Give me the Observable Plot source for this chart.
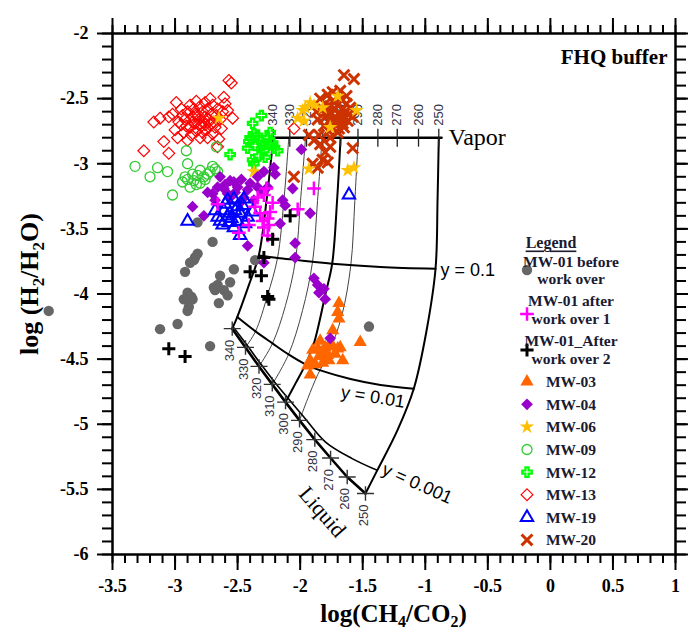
<!DOCTYPE html>
<html><head><meta charset="utf-8">
<script src="https://cdn.jsdelivr.net/npm/d3@7"></script>
<script src="https://cdn.jsdelivr.net/npm/@observablehq/plot@0.6"></script>
<style>
body{margin:0;background:#fff;}
#chart{position:relative;width:688px;height:630px;}
</style></head><body><div id="chart"></div>
<script>
// ---------------- data ----------------
const majorX = d3.range(-7, 3).map(d => d / 2);
const minorX = d3.range(-35, 11).map(d => d / 10);
const majorY = d3.range(-12, -3).map(d => d / 2);
const minorY = d3.range(-60, -19).map(d => d / 10);

const mw01Before = [[-2.82,-3.45],[-2.70,-3.60],[-2.82,-3.69],[-2.85,-3.74],[-2.88,-3.76],[-2.92,-3.83],[-2.53,-3.81],[-2.64,-3.86],[-2.56,-3.91],[-2.69,-3.95],[-2.68,-3.97],[-2.61,-3.97],[-2.58,-4.01],[-2.90,-3.99],[-2.93,-4.04],[-2.86,-4.04],[-2.89,-4.10],[-2.90,-4.13],[-2.65,-4.07],[-2.98,-4.23],[-3.12,-4.27],[-2.72,-4.40],[-2.36,-3.74],[-1.45,-4.25],[-4.01,-4.13],[-2.84,-3.72],[-2.87,-4.02],[-2.66,-3.93]];
const mw01After1 = [[-2.27,-3.19],[-2.29,-3.24],[-2.24,-3.37],[-2.32,-3.38],[-2.36,-3.33],[-2.26,-3.42],[-2.29,-3.49],[-2.25,-3.47],[-2.41,-3.47],[-2.49,-3.53],[-2.26,-3.55],[-2.66,-3.31],[-2.34,-3.26],[-1.89,-3.19],[-2.02,-3.35],[-2.30,-3.44],[-2.22,-3.30]];
const mw01After2 = [[-2.08,-3.40],[-2.22,-3.58],[-2.29,-3.72],[-2.40,-3.83],[-2.31,-3.86],[-2.26,-4.02],[-2.25,-4.04],[-3.05,-4.42],[-2.92,-4.48]];
const mw03 = [[-1.69,-4.07],[-1.70,-4.14],[-1.69,-4.19],[-1.74,-4.28],[-1.52,-4.37],[-1.84,-4.36],[-1.68,-4.41],[-1.90,-4.43],[-1.80,-4.43],[-1.72,-4.46],[-1.66,-4.51],[-1.92,-4.51],[-1.85,-4.48],[-1.77,-4.51],[-1.94,-4.55],[-1.88,-4.54],[-1.92,-4.62],[-1.80,-4.41],[-1.74,-4.40],[-1.83,-4.45],[-1.76,-4.38],[-1.70,-4.42],[-1.86,-4.42],[-1.78,-4.47],[-1.82,-4.53]];
const mw04 = [[-1.99,-2.89],[-2.21,-3.03],[-2.29,-3.06],[-2.64,-3.10],[-2.56,-3.13],[-2.74,-3.22],[-2.86,-3.33],[-2.77,-3.40],[-2.06,-3.19],[-2.14,-3.28],[-2.12,-3.32],[-1.92,-3.38],[-2.16,-3.46],[-2.42,-3.63],[-2.04,-3.61],[-2.42,-3.20],[-2.50,-3.18],[-2.61,-3.19],[-2.45,-3.26],[-2.37,-3.28],[-2.56,-3.26],[-2.66,-3.18],[-2.58,-3.23],[-2.70,-3.23],[-2.34,-3.18],[-2.34,-3.10],[-2.26,-3.18],[-2.04,-3.72],[-2.29,-3.76],[-1.89,-3.88],[-1.86,-3.93],[-1.81,-3.96],[-1.85,-3.99],[-1.80,-4.04],[-1.76,-4.34],[-2.53,-3.14],[-2.47,-3.12],[-2.40,-3.15],[-2.60,-3.16],[-2.52,-3.22],[-2.48,-3.30],[-2.30,-3.22],[-2.20,-3.08],[-2.68,-3.28]];
const mw06 = [[-1.70,-2.48],[-1.92,-2.53],[-1.96,-2.57],[-1.98,-2.59],[-2.02,-2.65],[-1.97,-2.67],[-1.89,-2.55],[-1.82,-2.57],[-1.76,-2.72],[-1.55,-2.59],[-1.93,-3.04],[-1.62,-3.05],[-1.57,-3.03],[-2.65,-2.65],[-2.37,-3.06]];
const mw09 = [[-3.32,-3.02],[-3.20,-3.10],[-3.14,-3.03],[-3.06,-3.06],[-3.02,-3.24],[-2.91,-2.90],[-2.90,-3.00],[-2.67,-2.87],[-2.90,-3.12],[-2.88,-3.18],[-2.82,-3.09],[-2.77,-3.10],[-2.72,-3.06],[-2.68,-3.04],[-2.85,-3.13],[-2.80,-3.15],[-2.74,-3.08],[-2.92,-3.10],[-2.86,-3.08],[-2.80,-3.05],[-2.70,-3.02],[-2.76,-3.12],[-2.83,-3.16],[-2.94,-3.14],[-2.66,-3.06]];
const mw12 = [[-2.31,-2.63],[-2.38,-2.69],[-2.37,-2.77],[-2.56,-2.93],[-2.41,-2.83],[-2.36,-2.86],[-2.32,-2.82],[-2.26,-2.80],[-2.25,-2.85],[-2.21,-2.88],[-2.29,-2.90],[-2.33,-2.94],[-2.24,-2.76],[-2.38,-2.97],[-2.37,-3.00],[-2.18,-2.90],[-2.28,-2.95],[-2.42,-2.88],[-2.34,-2.78],[-2.22,-2.84],[-2.30,-2.86],[-2.40,-2.80]];
const mw13 = [[-3.25,-2.90],[-3.17,-2.68],[-3.12,-2.65],[-3.05,-2.64],[-3.09,-2.83],[-3.05,-2.92],[-2.99,-2.53],[-2.98,-2.80],[-2.94,-2.63],[-2.66,-2.87],[-2.65,-2.81],[-2.61,-2.49],[-2.57,-2.36],[-2.55,-2.38],[-2.60,-2.54],[-2.54,-2.65],[-2.58,-2.59],[-2.05,-2.73],[-2.95,-2.70],[-2.92,-2.66],[-2.90,-2.60],[-2.88,-2.72],[-2.86,-2.64],[-2.85,-2.58],[-2.84,-2.69],[-2.83,-2.75],[-2.82,-2.62],[-2.81,-2.66],[-2.80,-2.56],[-2.79,-2.71],[-2.78,-2.60],[-2.77,-2.68],[-2.76,-2.64],[-2.75,-2.74],[-2.74,-2.58],[-2.73,-2.66],[-2.72,-2.70],[-2.71,-2.62],[-2.70,-2.55],[-2.69,-2.68],[-2.68,-2.72],[-2.67,-2.63],[-2.66,-2.58],[-2.87,-2.78],[-2.93,-2.76],[-2.97,-2.68],[-3.00,-2.74],[-2.90,-2.82],[-2.80,-2.80],[-2.74,-2.80],[-2.70,-2.77],[-2.64,-2.66],[-2.63,-2.73],[-2.88,-2.55],[-2.83,-2.52],[-2.76,-2.53],[-2.72,-2.50],[-2.95,-2.58],[-2.78,-2.76],[-2.84,-2.62],[-2.81,-2.70],[-2.86,-2.68],[-2.76,-2.70],[-2.91,-2.71],[-3.02,-2.62],[-2.62,-2.60]];
const mw19 = [[-2.90,-3.44],[-2.66,-3.41],[-2.58,-3.28],[-2.53,-3.27],[-2.45,-3.27],[-2.50,-3.33],[-2.61,-3.36],[-2.56,-3.38],[-2.48,-3.38],[-2.64,-3.44],[-2.57,-3.45],[-2.50,-3.44],[-2.42,-3.41],[-2.53,-3.49],[-2.48,-3.55],[-2.38,-3.37],[-2.68,-3.36],[-2.60,-3.31],[-2.55,-3.42],[-2.46,-3.32],[-2.62,-3.47],[-2.44,-3.46],[-1.61,-3.24],[-2.52,-3.36],[-2.58,-3.40]];
const mw20 = [[-1.65,-2.32],[-1.57,-2.35],[-1.58,-2.88],[-1.93,-2.78],[-2.05,-3.10],[-1.90,-3.00],[-1.86,-3.03],[-1.82,-2.97],[-1.78,-2.99],[-1.84,-2.85],[-1.89,-2.82],[-1.85,-2.78],[-1.76,-2.80],[-1.76,-2.87],[-1.80,-2.91],[-1.84,-2.50],[-1.82,-2.58],[-1.80,-2.54],[-1.79,-2.63],[-1.78,-2.47],[-1.77,-2.68],[-1.76,-2.56],[-1.75,-2.61],[-1.74,-2.52],[-1.73,-2.65],[-1.72,-2.58],[-1.71,-2.70],[-1.70,-2.55],[-1.69,-2.62],[-1.68,-2.50],[-1.67,-2.66],[-1.66,-2.58],[-1.65,-2.72],[-1.64,-2.60],[-1.63,-2.54],[-1.62,-2.67],[-1.61,-2.62],[-1.60,-2.57],[-1.58,-2.64],[-1.77,-2.75],[-1.81,-2.71],[-1.86,-2.66],[-1.70,-2.76],[-1.74,-2.45],[-1.68,-2.44],[-1.63,-2.48],[-1.87,-2.60],[-1.66,-2.69],[-1.72,-2.68],[-1.78,-2.60],[-1.69,-2.73]];

// grid (FHQ buffer)
const vaporLevel = -2.80;
const vaporTemps = [340,330,320,310,300,290,280,270,260,250];
const vaporTickX = [-2.215,-2.083,-1.949,-1.819,-1.677,-1.538,-1.379,-1.224,-1.054,-0.892];
const vaporLine = [[-2.215,-2.80],[-0.870,-2.80]];
const liquidTemps = [340,330,320,310,300,290,280,270,260,250];
const liquidX = [-2.543,-2.437,-2.329,-2.223,-2.117,-2.005,-1.883,-1.757,-1.624,-1.478];
const liquidY = [-4.266,-4.410,-4.556,-4.694,-4.830,-4.970,-5.118,-5.259,-5.405,-5.532];
const yLine01 = [[-2.331,-3.704],[-2.181,-3.723],[-2.037,-3.738],[-1.901,-3.752],[-1.744,-3.767],[-1.358,-3.792],[-0.918,-3.806]];
const yLine001 = [[-2.503,-4.177],[-2.357,-4.287],[-2.221,-4.379],[-2.093,-4.464],[-1.957,-4.540],[-1.813,-4.594],[-1.598,-4.652],[-1.358,-4.698],[-1.092,-4.727]];
const yLine0001 = [[-2.529,-4.260],[-2.421,-4.398],[-2.313,-4.540],[-2.205,-4.675],[-2.093,-4.805],[-1.977,-4.936],[-1.797,-5.137],[-1.584,-5.264],[-1.384,-5.354]];
const iso340 = [[-2.215,-2.800],[-2.265,-3.250],[-2.331,-3.704],[-2.411,-3.934],[-2.503,-4.177],[-2.543,-4.266]];
const iso330 = [[-2.091,-2.800],[-2.130,-3.282],[-2.181,-3.723],[-2.261,-4.011],[-2.357,-4.287],[-2.437,-4.410]];
const iso320 = [[-1.957,-2.800],[-1.997,-3.282],[-2.037,-3.738],[-2.117,-4.087],[-2.221,-4.379],[-2.329,-4.556]];
const iso310 = [[-1.824,-2.800],[-1.861,-3.282],[-1.901,-3.752],[-1.981,-4.126],[-2.093,-4.464],[-2.223,-4.694]];
const iso300 = [[-1.677,-2.800],[-1.705,-3.282],[-1.744,-3.767],[-1.797,-3.996],[-1.891,-4.382],[-1.957,-4.540],[-2.037,-4.686],[-2.117,-4.830]];
const iso290 = [[-1.536,-2.800],[-1.563,-3.282],[-1.595,-3.777],[-1.667,-4.165],[-1.779,-4.472],[-1.859,-4.618],[-1.939,-4.802],[-2.005,-4.970]];
const iso250 = [[-0.892,-2.800],[-0.902,-3.282],[-0.918,-3.806],[-0.990,-4.282],[-1.092,-4.727],[-1.223,-5.047],[-1.384,-5.354],[-1.478,-5.532]];

// annotation labels (text + anchor in data units)
const gridLabels = [
  {text:"Vapor", x:-0.814, y:-2.80, rotate:0, size:24, font:"Liberation Serif", anchor:"start"},
  {text:"Liquid", x:-1.824, y:-5.674, rotate:49, size:22, font:"Liberation Serif", anchor:"middle"},
  {text:"y = 0.1", x:-0.878, y:-3.815, rotate:0, size:18, font:"Liberation Sans", anchor:"start"},
  {text:"y = 0.01", x:-1.418, y:-4.791, rotate:9, size:18, font:"Liberation Sans", anchor:"middle"},
  {text:"y = 0.001", x:-1.064, y:-5.456, rotate:24, size:18, font:"Liberation Sans", anchor:"middle"}
];

const seriesNames = ["MW-01 before work over","MW-01 after work over 1","MW-01_After work over 2","MW-03","MW-04","MW-06","MW-09","MW-12","MW-13","MW-19","MW-20"];
const legendLines = [["MW-01 before","work over"],["MW-01 after","work over 1"],["MW-01_After","work over 2"],["MW-03"],["MW-04"],["MW-06"],["MW-09"],["MW-12"],["MW-13"],["MW-19"],["MW-20"]];

// ---------------- styles ----------------
const styles = {
  "MW-01 before work over": {data: mw01Before, symbol:"circle", fill:"#666666", stroke:"none", r:5.2, sw:0},
  "MW-01 after work over 1": {data: mw01After1, symbol:"plus", fill:"none", stroke:"#ff00ff", r:4.5, sw:2.5},
  "MW-01_After work over 2": {data: mw01After2, symbol:"plus", fill:"none", stroke:"#000000", r:4.3, sw:3},
  "MW-03": {data: mw03, symbol:"triangle", fill:"#ff6600", stroke:"none", r:4.9, sw:0},
  "MW-04": {data: mw04, symbol:"diamond2", fill:"#9900cc", stroke:"none", r:5.3, sw:0},
  "MW-06": {data: mw06, symbol:"star", fill:"#ffc000", stroke:"none", r:4.6, sw:0},
  "MW-09": {data: mw09, symbol:"circle", fill:"none", stroke:"#33cc33", r:5, sw:1.3},
  "MW-12": {data: mw12, symbol:"cross", fill:"none", stroke:"#00ff00", r:4, sw:2.2},
  "MW-13": {data: mw13, symbol:"diamond2", fill:"none", stroke:"#ff0000", r:5.3, sw:1.2},
  "MW-19": {data: mw19, symbol:"triangle", fill:"none", stroke:"#0000ff", r:4.6, sw:2},
  "MW-20": {data: mw20, symbol:"times", fill:"none", stroke:"#cc3300", r:5, sw:3}
};
const drawOrder = ["MW-13","MW-09","MW-12","MW-20","MW-06","MW-01 before work over","MW-03","MW-04","MW-19","MW-01 after work over 1","MW-01_After work over 2"];

const vbar = {draw(ctx, size){ const r = Math.sqrt(size/Math.PI); ctx.moveTo(0,-r); ctx.lineTo(0,r); }};
const lcross = {draw(ctx, size){ const r = Math.sqrt(size/Math.PI); ctx.moveTo(-r,0); ctx.lineTo(r,0); ctx.moveTo(0,-r*0.85); ctx.lineTo(0,r*0.85); }};

const P = d => d[0], Q = d => d[1];
const fmt = d => String(d);
const serif = "Liberation Serif";

const gridLine = (pts, w, color="black") => Plot.line(pts, {x:P, y:Q, curve:"catmull-rom", stroke:color, strokeWidth:w});

const vaporTicks = vaporTemps.map((t,i) => ({t, x: vaporTickX[i]}));
const liquidTicks = liquidTemps.map((t,i) => ({t, x: liquidX[i], y: liquidY[i]}));

const marks = [
  gridLine(iso330, 1, "#444"), gridLine(iso320, 1, "#444"), gridLine(iso310, 1, "#444"), gridLine(iso290, 1, "#444"),
  gridLine(iso340, 2), gridLine(iso300, 2), gridLine(iso250, 2),
  gridLine(yLine01, 2), gridLine(yLine001, 2), gridLine(yLine0001, 1.6),
  Plot.line(vaporLine, {x:P, y:Q, stroke:"black", strokeWidth:2.5}),
  Plot.line(liquidTicks, {x:"x", y:"y", stroke:"black", strokeWidth:2.6}),
  Plot.dot(vaporTicks, {x:"x", y:() => vaporLevel, symbol: vbar, r:9, stroke:"#222", strokeWidth:1.3, fill:"none"}),
  Plot.text(vaporTicks, {x:"x", y:() => vaporLevel, text:"t", rotate:-90, textAnchor:"start", lineAnchor:"middle", dy:-12, fontSize:13, fontFamily:"Liberation Sans", fill:"#333344"}),
  Plot.dot(liquidTicks, {x:"x", y:"y", symbol: lcross, r:8.5, stroke:"#333", strokeWidth:1.4, fill:"none"}),
  Plot.text(liquidTicks, {x:"x", y:"y", text:"t", rotate:-90, textAnchor:"end", lineAnchor:"middle", dy:11, dx:-2, fontSize:13, fontFamily:"Liberation Sans", fill:"#333344"}),
  ...gridLabels.map(l => Plot.text([l], {x:"x", y:"y", text:"text", rotate:l.rotate, textAnchor:l.anchor, lineAnchor:"middle", fontSize:l.size, fontFamily:l.font, fill:"black"})),
  Plot.text(["FHQ buffer"], {frameAnchor:"top-right", dx:-8, dy:24, text:d=>d, textAnchor:"end", lineAnchor:"middle", fontSize:21, fontWeight:"bold", fontFamily:serif}),
  ...drawOrder.map(name => { const s = styles[name]; return Plot.dot(s.data, {x:P, y:Q, symbol:s.symbol, r:s.r, fill:s.fill, stroke:s.stroke, strokeWidth:s.sw}); }),
  Plot.frame({stroke:"black", strokeWidth:2.5}),
  Plot.axisX({ticks: minorX, tickSize: 9, tickFormat: () => "", strokeWidth: 2, label: null}),
  Plot.axisX({ticks: majorX, tickSize: 16, tickPadding: 9, tickFormat: fmt, strokeWidth: 2, fontSize: 18, fontWeight: "bold", fontFamily: serif, label: null}),
  Plot.axisX({anchor:"top", ticks: minorX, tickSize: 9, tickFormat: () => "", strokeWidth: 2, label: null}),
  Plot.axisX({anchor:"top", ticks: majorX, tickSize: 16, tickFormat: () => "", strokeWidth: 2, label: null}),
  Plot.axisY({ticks: minorY, tickSize: 10, tickFormat: () => "", strokeWidth: 2, label: null}),
  Plot.axisY({ticks: majorY, tickSize: 15, tickPadding: 9, tickFormat: fmt, strokeWidth: 2, fontSize: 18, fontWeight: "bold", fontFamily: serif, label: null}),
  Plot.axisY({anchor:"right", ticks: minorY, tickSize: 10, tickFormat: () => "", strokeWidth: 2, label: null}),
  Plot.axisY({anchor:"right", ticks: majorY, tickSize: 15, tickFormat: () => "", strokeWidth: 2, label: null})
];

const chart = Plot.plot({
  width: 688, height: 630,
  marginLeft: 112, marginRight: 13, marginTop: 33, marginBottom: 76,
  x: {domain: [-3.5, 1]},
  y: {domain: [-6, -2]},
  style: {fontFamily: serif, background: "white", overflow: "visible", color: "black"},
  marks
});

// axis titles with subscripts
const svg = d3.select(chart);
const xl = svg.append("text").attr("x", 393.5).attr("y", 622).attr("text-anchor", "middle")
  .attr("font-family", serif).attr("font-weight", "bold").attr("font-size", 25).attr("fill", "black");
xl.append("tspan").text("log(CH");
xl.append("tspan").attr("dy", 5).attr("font-size", 16).text("4");
xl.append("tspan").attr("dy", -5).text("/CO");
xl.append("tspan").attr("dy", 5).attr("font-size", 16).text("2");
xl.append("tspan").attr("dy", -5).text(")");

const yl = svg.append("text").attr("transform", "translate(38,284) rotate(-90)").attr("text-anchor", "middle")
  .attr("font-family", serif).attr("font-weight", "bold").attr("font-size", 26).attr("fill", "black");
yl.append("tspan").text("log (H");
yl.append("tspan").attr("dy", 6).attr("font-size", 17).text("2");
yl.append("tspan").attr("dy", -6).text("/H");
yl.append("tspan").attr("dy", 6).attr("font-size", 17).text("2");
yl.append("tspan").attr("dy", -6).text("O)");

// legend
const lg = svg.append("g").attr("font-family", serif).attr("font-weight", "bold").attr("fill", "#1a1a33");
lg.append("text").attr("x", 551).attr("y", 242).attr("dominant-baseline", "central").attr("font-size", 16)
  .attr("text-decoration", "underline").text("Legend");
const symMap = {circle:d3.symbolCircle, plus:d3.symbolPlus, triangle:d3.symbolTriangle, diamond2:d3.symbolDiamond2, star:d3.symbolStar, cross:d3.symbolCross, times:d3.symbolTimes};
const rowY = [[261,278.5,270],[300.7,318.3,314],[340.7,358.3,350]];
seriesNames.forEach((name, i) => {
  const s = styles[name];
  const lines = legendLines[i];
  const ys = i < 3 ? rowY[i].slice(0,2) : [381.7 + (i-3)*22.6];
  const sy = i < 3 ? rowY[i][2] : ys[0];
  lg.append("path").attr("transform", `translate(527,${sy})`)
    .attr("d", d3.symbol(symMap[s.symbol], Math.PI*s.r*s.r)())
    .attr("fill", s.fill).attr("stroke", s.stroke).attr("stroke-width", s.sw);
  lines.forEach((t, j) => {
    lg.append("text").attr("x", 571).attr("y", ys[j]).attr("dominant-baseline", "central").attr("font-size", 15.5).text(t);
  });
});

document.getElementById("chart").appendChild(chart);
</script></body></html>
